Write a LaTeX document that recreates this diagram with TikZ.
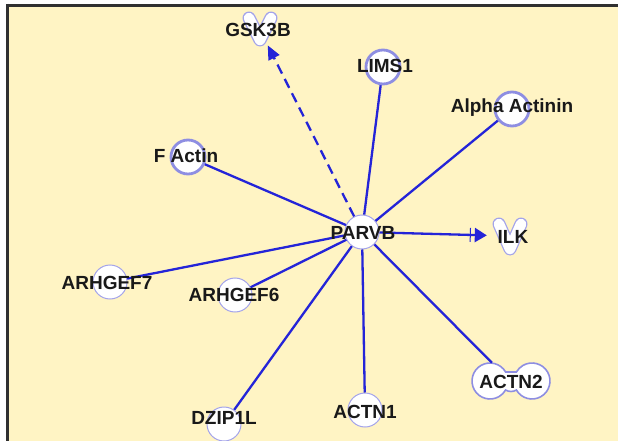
\documentclass[tikz,border=0pt]{standalone}
\usepackage{fontspec}
\setmainfont{Liberation Sans}
\usetikzlibrary{arrows.meta}
\definecolor{bgy}{HTML}{FFF4C4}
\definecolor{edgeb}{HTML}{2424D8}
\definecolor{ringc}{HTML}{A4A4EA}
\definecolor{ringd}{HTML}{8E8EE2}
\definecolor{lav}{HTML}{C4C4F0}
\definecolor{frame}{HTML}{303030}
\pgfdeclareradialshading{genesh}{\pgfpoint{0bp}{0bp}}{color(0bp)=(white); color(25bp)=(white); color(50bp)=(lav)}
\begin{document}
\begin{tikzpicture}[x=1pt,y=1pt,
  gene/.style={circle, minimum size=34pt, inner sep=0pt, draw=ringc, line width=1pt, shading=genesh},
  geneb/.style={gene, draw=ringd, line width=2.8pt},
  hid/.style={circle, minimum size=34pt, inner sep=0pt},
  lbl/.style={font=\bfseries\fontsize{19}{20}\selectfont, text=black!90, inner sep=0pt},
  rel/.style={draw=edgeb, line width=2.3pt},
  kin/.style={line width=13pt, line cap=round, line join=round, draw=ringc},
  kinin/.style={line width=10.5pt, line cap=round, line join=round, draw=white}]
\useasboundingbox (0,0) rectangle (618,-441);
\fill[white] (0,0) rectangle (618,-441);
\fill[bgy] (7,-5) rectangle (618,-441);
\draw[frame, line width=3pt] (6,-5.5) -- (618,-5.5);
\draw[frame, line width=3pt] (7.5,-4) -- (7.5,-441);

% kinase icons
\draw[kin] (249,-18) -- (260,-40) -- (271,-18);
\draw[kinin] (249,-18) -- (260,-40) -- (271,-18);
\draw[kin] (499,-224) -- (510,-249) -- (521,-224);
\draw[kinin] (499,-224) -- (510,-249) -- (521,-224);
\node[hid] (gsk) at (260,-30) {};
\node[hid] (ilk) at (510,-236) {};

% ACTN2 peanut
\draw[draw=ringd, line width=1.6pt, shading=genesh]
  (505.6,-372) arc[start angle=30, end angle=330, radius=18]
  .. controls (509,-392) and (513,-392) .. (516.4,-390)
  arc[start angle=210, end angle=510, radius=18]
  .. controls (513,-372) and (509,-372) .. cycle;
\node[circle, minimum size=54pt, inner sep=0pt] (actn2) at (511,-382) {};

% gene circles
\node[gene] (parvb) at (362,-232) {};
\node[geneb] (lims) at (383,-67) {};
\node[geneb] (alpha) at (512,-109) {};
\node[geneb] (factin) at (188,-157) {};
\node[gene] (arh7) at (110,-282) {};
\node[gene] (arh6) at (235,-295) {};
\node[gene] (dzip) at (224,-424) {};
\node[gene] (actn1) at (365,-410) {};

% relations
\draw[rel, dash pattern=on 10pt off 6pt, -{Triangle[length=14pt,width=12pt]}] (parvb) -- (gsk);
\draw[rel, shorten >=6pt, -{Bar[width=14pt,line width=1pt,sep=4pt]Triangle[length=12pt,width=14pt]}] (parvb) -- (ilk);
\draw[rel] (parvb) -- (lims);
\draw[rel] (parvb) -- (alpha);
\draw[rel] (parvb) -- (factin);
\draw[rel] (parvb) -- (arh7);
\draw[rel] (parvb) -- (arh6);
\draw[rel] (parvb) -- (dzip);
\draw[rel] (parvb) -- (actn1);
\draw[rel] (parvb) -- (actn2);

% labels
\node[lbl] (tparvb) at (363,-233) {PARVB};
\node[lbl] (tgsk) at (258,-30) {GSK3B};
\node[lbl] (tilk) at (513,-237) {ILK};
\node[lbl] (tlims) at (385,-66) {LIMS1};
\node[lbl] (talpha) at (512,-108) {Alpha Actinin};
\node[lbl] (tfactin) at (186,-156) {F Actin};
\node[lbl] (tarh7) at (107,-283) {ARHGEF7};
\node[lbl] (tarh6) at (234,-295) {ARHGEF6};
\node[lbl] (tdzip) at (224,-418) {DZIP1L};
\node[lbl] (tactn1) at (365,-412) {ACTN1};
\node[lbl] (tactn2) at (511,-382) {ACTN2};
\end{tikzpicture}
\end{document}
